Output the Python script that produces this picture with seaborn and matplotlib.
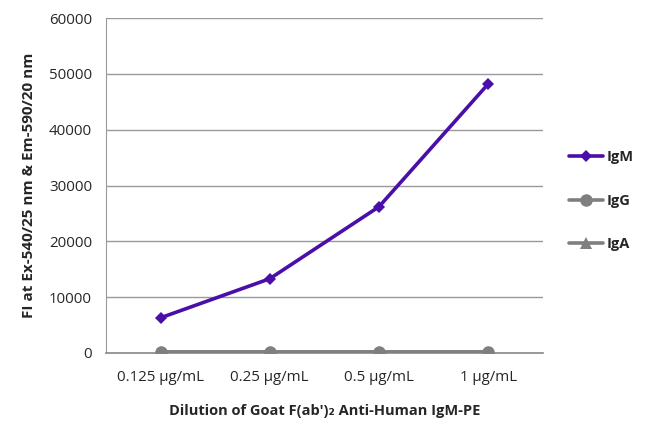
import matplotlib

matplotlib.use("Agg")
import matplotlib.pyplot as plt
import numpy as np
import pandas as pd
import seaborn as sns
from matplotlib.lines import Line2D

dilutions = ["0.125 µg/mL", "0.25 µg/mL", "0.5 µg/mL", "1 µg/mL"]
igm = [6300, 13300, 26200, 48200]
igg = [100, 100, 100, 100]
iga = [100, 100, 100, 100]
yticks = [0, 10000, 20000, 30000, 40000, 50000, 60000]

colors = {"IgM": "#4a0fa8", "IgG": "#7f7f7f", "IgA": "#7f7f7f"}
markers = {"IgM": "D", "IgG": "o", "IgA": "^"}
msizes = {"IgM": 6, "IgG": 9, "IgA": 8}

sns.set_style("white")
plt.rcParams["font.family"] = ["Open Sans", "DejaVu Sans"]

pos = np.arange(len(dilutions))
df = pd.DataFrame({
    "pos": np.tile(pos, 3),
    "value": igm + igg + iga,
    "series": ["IgM"] * 4 + ["IgG"] * 4 + ["IgA"] * 4,
})

fig = plt.figure(figsize=(6.5, 4.32), dpi=100)
ax = fig.add_axes([0.163, 0.183, 0.672, 0.775])

# IgA first so the IgG circles sit on top, as in the original
for name in ["IgA", "IgG", "IgM"]:
    sub = df[df["series"] == name]
    sns.lineplot(
        data=sub, x="pos", y="value", ax=ax, color=colors[name],
        marker=markers[name], markersize=msizes[name], markeredgewidth=0,
        linewidth=2.6, sort=False, legend=False, zorder=3,
    )

ax.set_xlim(-0.5, len(dilutions) - 0.5)
ax.set_ylim(0, 60000)
ax.set_yticks(yticks)
ax.set_yticklabels([str(v) for v in yticks])
ax.set_xticks(pos)
ax.set_xticklabels(dilutions)
ax.set_xticks(np.arange(-0.5, len(dilutions)), minor=True)
ax.tick_params(axis="x", which="major", length=0, pad=12, labelsize=10.8)
ax.tick_params(axis="x", which="minor", length=5, color="#888888", width=1)
ax.tick_params(axis="y", length=5, color="#888888", width=1, labelsize=10.8, pad=5)
ax.grid(axis="y", color="#999999", linewidth=1)
ax.set_axisbelow(True)
for side in ["top", "right"]:
    ax.spines[side].set_visible(False)
ax.spines["left"].set_color("#999999")
ax.spines["bottom"].set_color("#888888")
ax.spines["bottom"].set_linewidth(1.2)

ax.set_xlabel("Dilution of Goat F(ab')\u2082 Anti-Human IgM-PE",
              fontsize=10.5, fontweight="bold", labelpad=14)
ax.set_ylabel("FI at Ex-540/25 nm & Em-590/20 nm",
              fontsize=11, fontweight="bold", labelpad=9)

handles = [
    Line2D([], [], color=colors[n], marker=markers[n], markersize=msizes[n],
           markeredgewidth=0, linewidth=2.6)
    for n in ["IgM", "IgG", "IgA"]
]
leg = ax.legend(handles, ["IgM", "IgG", "IgA"], loc="center left",
                bbox_to_anchor=(1.03, 0.455), frameon=False, handlelength=2.3,
                handletextpad=0.3, labelspacing=2.0,
                prop={"weight": "bold", "size": 10.5})

fig.savefig("out.png", dpi=100)
